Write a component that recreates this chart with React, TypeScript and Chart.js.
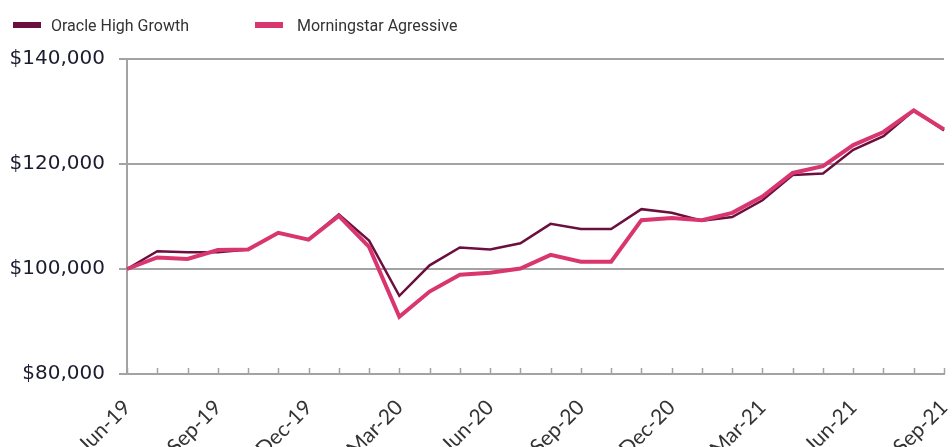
import React, { useEffect, useRef } from "react";
import { Chart, registerables } from "chart.js";

Chart.register(...registerables);

const months: string[] = [
  "Jun-19", "Jul-19", "Aug-19", "Sep-19", "Oct-19", "Nov-19", "Dec-19",
  "Jan-20", "Feb-20", "Mar-20", "Apr-20", "May-20", "Jun-20", "Jul-20",
  "Aug-20", "Sep-20", "Oct-20", "Nov-20", "Dec-20", "Jan-21", "Feb-21",
  "Mar-21", "Apr-21", "May-21", "Jun-21", "Jul-21", "Aug-21", "Sep-21",
];

const oracleHighGrowth: number[] = [
  100000, 103400, 103200, 103200, 103700, 106900, 105600, 110400, 105400, 94900,
  100700, 104100, 103700, 104900, 108600, 107600, 107600, 111400, 110700, 109200,
  109900, 113100, 117900, 118200, 122700, 125300, 130200, 126400,
];

const morningstarAgressive: number[] = [
  100000, 102200, 101900, 103600, 103700, 106900, 105600, 110100, 104200, 90900,
  95700, 98900, 99300, 100100, 102700, 101400, 101400, 109300, 109700, 109300,
  110700, 113800, 118300, 119600, 123600, 126100, 130200, 126600,
];

const seriesNames: string[] = ["Oracle High Growth", "Morningstar Agressive"];
const seriesColors: string[] = ["#6b0f3f", "#d9366f"];

const yTicks: number[] = [80000, 100000, 120000, 140000];

const GRID = "#a3a3a3";

const innerXTicks = {
  id: "innerXTicks",
  beforeDatasetsDraw(chart: any) {
    const xs = chart.scales.x;
    const bottom = chart.chartArea.bottom;
    const ctx = chart.ctx;
    ctx.save();
    ctx.strokeStyle = GRID;
    ctx.lineWidth = 1.5;
    for (let i = 0; i < xs.ticks.length; i++) {
      const px = Math.round(xs.getPixelForTick(i)) + 0.5;
      ctx.beginPath();
      ctx.moveTo(px, bottom);
      ctx.lineTo(px, bottom - 6);
      ctx.stroke();
    }
    ctx.restore();
  },
};

export default function App() {
  const ref = useRef<HTMLCanvasElement | null>(null);

  useEffect(() => {
    if (!ref.current) return;
    const chart = new Chart(ref.current, {
      type: "line",
      data: {
        labels: months,
        datasets: [
          {
            label: seriesNames[0],
            data: oracleHighGrowth,
            borderColor: seriesColors[0],
            backgroundColor: seriesColors[0],
            borderWidth: 2.5,
            pointRadius: 0,
            tension: 0,
            order: 1,
          },
          {
            label: seriesNames[1],
            data: morningstarAgressive,
            borderColor: seriesColors[1],
            backgroundColor: seriesColors[1],
            borderWidth: 4,
            pointRadius: 0,
            tension: 0,
            order: 0,
          },
        ],
      },
      options: {
        animation: false,
        responsive: false,
        maintainAspectRatio: false,
        layout: { padding: { top: 59, right: 8, left: 0, bottom: 0 } },
        plugins: {
          legend: { display: false },
          tooltip: { enabled: false },
        },
        scales: {
          x: {
            offset: false,
            grid: { display: false },
            border: { display: true, color: GRID, width: 2 },
            ticks: {
              autoSkip: false,
              maxRotation: 45,
              minRotation: 45,
              padding: 13,
              color: "#333333",
              font: { family: "Lato", size: 21 },
              callback: (_v: any, i: number) => (i % 3 === 0 ? months[i] : ""),
            },
            afterFit: (s: any) => {
              s.height = 447 - 374;
              s.paddingLeft = 0;
              s.paddingRight = 0;
            },
          },
          y: {
            min: 80000,
            max: 140000,
            afterBuildTicks: (s: any) => {
              s.ticks = yTicks.map((v) => ({ value: v }));
            },
            grid: {
              color: GRID,
              lineWidth: 2,
              drawTicks: true,
              tickLength: 8,
            },
            border: { display: true, color: GRID, width: 2 },
            ticks: {
              padding: 14,
              color: "#1c1c30",
              font: { family: "DejaVu Sans", size: 20 },
              callback: (v: any) => "$" + Number(v).toLocaleString("en-US"),
            },
            afterFit: (s: any) => {
              s.width = 127;
            },
          },
        },
      },
      plugins: [innerXTicks],
    });
    return () => chart.destroy();
  }, []);

  return (
    <div style={{ position: "absolute", left: 0, top: 0, width: 952, height: 447, overflow: "hidden", background: "#fff" }}>
      <canvas ref={ref} width={952} height={447} style={{ display: "block" }} />
      {seriesNames.map((name, i) => (
        <div
          key={name}
          style={{
            position: "absolute",
            left: i === 0 ? 13 : 255,
            top: 15,
            height: 20,
            display: "flex",
            alignItems: "center",
            fontFamily: "Roboto",
            fontSize: 16,
            color: "#333333",
            whiteSpace: "nowrap",
          }}
        >
          <span style={{ display: "inline-block", width: 28, height: 6, background: seriesColors[i], marginRight: i === 0 ? 10 : 14 }} />
          {name}
        </div>
      ))}
    </div>
  );
}
